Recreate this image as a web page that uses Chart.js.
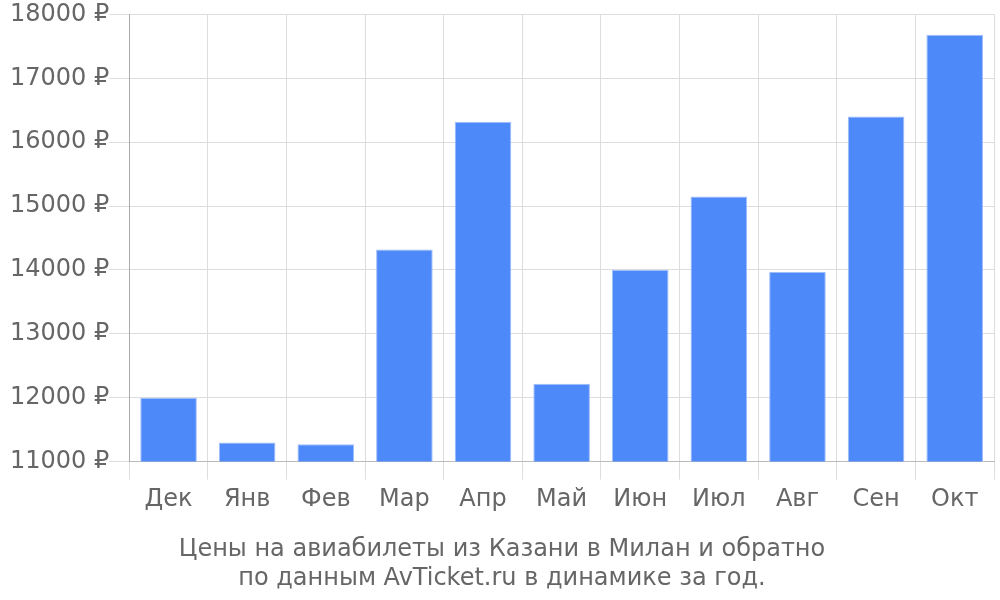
<!DOCTYPE html>
<html>
<head>
<meta charset="utf-8">
<script src="https://cdn.jsdelivr.net/npm/chart.js@4"></script>
<style>
  html, body { margin: 0; padding: 0; background: #fff; }
  #wrap { width: 1000px; height: 600px; }
</style>
</head>
<body>
<div id="wrap"><canvas id="chart" width="1000" height="600"></canvas></div>
<script>
var months = ["Дек", "Янв", "Фев", "Мар", "Апр", "Май", "Июн", "Июл", "Авг", "Сен", "Окт"];
var prices = [12000, 11300, 11270, 14320, 16320, 12220, 14000, 15150, 13970, 16400, 17680];
var titleLines = ["Цены на авиабилеты из Казани в Милан и обратно", "по данным AvTicket.ru в динамике за год."];

Chart.defaults.font.family = "'DejaVu Sans', sans-serif";
Chart.defaults.color = "#666";

var ctx = document.getElementById("chart").getContext("2d");
new Chart(ctx, {
    type: "bar",
    data: {
        labels: months,
        datasets: [{
            data: prices,
            backgroundColor: "#4e89fa",
            borderColor: "rgba(160, 190, 250, 1)",
            borderWidth: 1
        }]
    },
    options: {
        responsive: false,
        animation: false,
        layout: { padding: { left: 10, right: 6, top: 4, bottom: 0 } },
        plugins: {
            legend: { display: false },
            tooltip: { enabled: false },
            title: {
                display: true,
                position: "bottom",
                text: titleLines,
                color: "#666",
                font: { size: 24, weight: "normal" },
                padding: { top: 15, bottom: 7 },
                lineHeight: 1.15
            }
        },
        scales: {
            x: {
                grid: { color: "#ddd", tickLength: 18, offset: true },
                border: { color: "#bbb" },
                ticks: { font: { size: 24 }, color: "#666", padding: 6 }
            },
            y: {
                min: 11000,
                max: 18000,
                grid: { color: "#ddd", tickLength: 20 },
                border: { color: "#aaa" },
                ticks: {
                    stepSize: 1000,
                    font: { size: 24 },
                    color: "#666",
                    padding: 0,
                    callback: function(value) { return value + " ₽"; }
                }
            }
        }
    }
});
</script>
</body>
</html>
